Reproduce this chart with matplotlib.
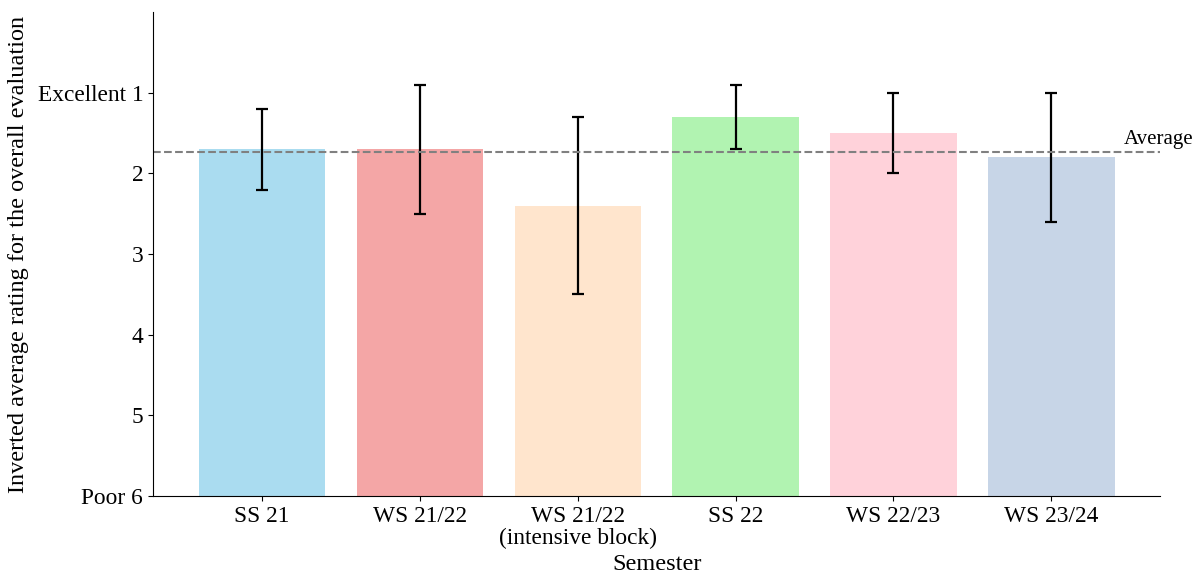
import numpy as np
import matplotlib
matplotlib.use("Agg")
import matplotlib.pyplot as plt

plt.rcParams['font.family'] = ['Liberation Serif', 'DejaVu Serif']

semesters = ['SS 21', 'WS 21/22', 'WS 21/22\n(intensive block)', 'SS 22', 'WS 22/23', 'WS 23/24']
ratings = [1.7, 1.7, 2.4, 1.3, 1.5, 1.8]
errors = [0.5, 0.8, 1.1, 0.4, 0.5, 0.8]
colors = ['skyblue', 'lightcoral', 'peachpuff', 'lightgreen', 'pink', 'lightsteelblue']
tick_values = [1, 2, 3, 4, 5, 6]
tick_labels = ['Excellent 1', '2', '3', '4', '5', 'Poor 6']


def plot_ratings():
    fig = plt.figure(figsize=(11.95, 5.76), dpi=100)
    ax = fig.add_axes([0.128, 0.139, 0.843, 0.840])

    x = np.arange(len(semesters))
    heights = [6 - r for r in ratings]
    ax.bar(x, heights, bottom=ratings, width=0.8, color=colors, alpha=0.7)
    ax.errorbar(x, ratings, yerr=errors, fmt='none', ecolor='black',
                elinewidth=1.6, capsize=4, capthick=1.6)

    avg = np.mean(ratings)
    ax.axhline(avg, color='gray', linestyle='--', linewidth=1.5)
    ax.text(5.46, avg - 0.04, 'Average', ha='left', va='bottom', fontsize=15)

    ax.set_ylim(6, 0)
    ax.set_yticks(tick_values)
    ax.set_yticklabels(tick_labels)
    ax.set_xticks(x)
    ax.set_xticklabels(semesters, linespacing=1.1)
    ax.tick_params(labelsize=16.8)

    ax.set_xlabel('Semester', fontsize=17.5, labelpad=3)
    ax.set_ylabel('Inverted average rating for the overall evaluation', fontsize=17.5, labelpad=6)

    ax.spines['top'].set_visible(False)
    ax.spines['right'].set_visible(False)

    fig.savefig('out.png', dpi=100)


def main():
    plot_ratings()


if __name__ == "__main__":
    main()
